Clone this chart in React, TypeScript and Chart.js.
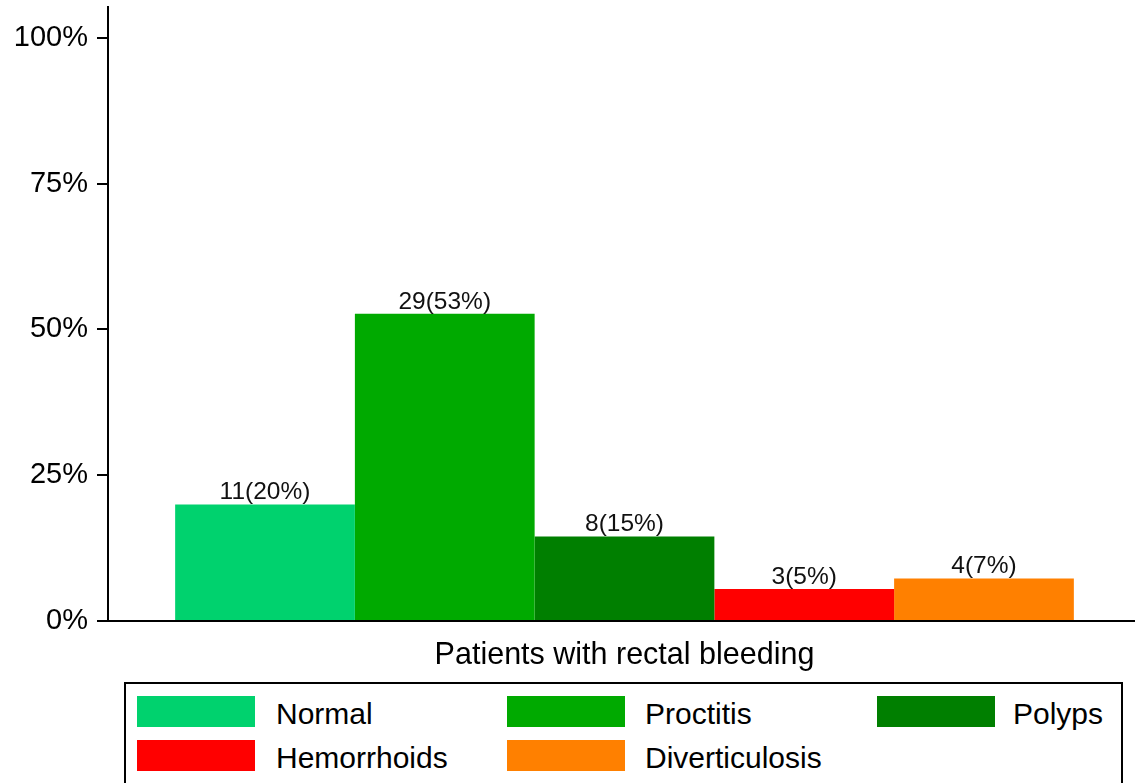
import React, { useEffect, useRef } from "react";
import { Chart, registerables } from "chart.js";

Chart.register(...registerables);

const category = ["Patients with rectal bleeding"];
const seriesNames = ["Normal", "Proctitis", "Polyps", "Hemorrhoids", "Diverticulosis"];
const seriesPercent = [20.0, 52.7, 14.5, 5.5, 7.3];
const seriesLabels = ["11(20%)", "29(53%)", "8(15%)", "3(5%)", "4(7%)"];
const seriesColors = ["#00D26E", "#00AA00", "#007F00", "#FF0000", "#FF8000"];
const yTicks = [0, 25, 50, 75, 100];

const FONT = '"Liberation Sans", Arial, sans-serif';

const barLabelPlugin = {
  id: "barLabels",
  afterDatasetsDraw(chart: any) {
    const ctx = chart.ctx;
    ctx.save();
    ctx.font = `24.5px ${FONT}`;
    ctx.fillStyle = "#111";
    ctx.textAlign = "center";
    ctx.textBaseline = "alphabetic";
    chart.data.datasets.forEach((ds: any, i: number) => {
      const meta = chart.getDatasetMeta(i);
      meta.data.forEach((bar: any) => {
        ctx.fillText(seriesLabels[i], bar.x, bar.y - 5);
      });
    });
    ctx.restore();
  },
};

export default function App() {
  const ref = useRef<HTMLCanvasElement | null>(null);

  useEffect(() => {
    document.body.style.margin = "0";
    document.body.style.overflow = "hidden";
    const chart = new Chart(ref.current as HTMLCanvasElement, {
      type: "bar",
      data: {
        labels: category,
        datasets: seriesNames.map((name, i) => ({
          label: name,
          data: [seriesPercent[i]],
          backgroundColor: seriesColors[i],
          borderWidth: 0,
        })),
      },
      options: {
        animation: false,
        responsive: false,
        maintainAspectRatio: false,
        layout: { padding: { top: 7, left: 0, right: 0, bottom: 0 } },
        plugins: {
          legend: { display: false },
          tooltip: { enabled: false },
        },
        datasets: {
          bar: { categoryPercentage: 0.87, barPercentage: 1.0 },
        },
        scales: {
          x: {
            grid: { display: false, drawTicks: false },
            border: { display: true, color: "#000", width: 2 },
            ticks: {
              color: "#000",
              padding: 16,
              font: { family: FONT, size: 30.5 },
            },
            afterFit: (s: any) => {
              s.height = 162;
            },
          },
          y: {
            min: 0,
            max: 105.3,
            grid: {
              display: true,
              drawOnChartArea: false,
              drawTicks: true,
              tickLength: 11,
              color: "#000",
              lineWidth: 2,
            },
            border: { display: true, color: "#000", width: 2 },
            ticks: {
              color: "#000",
              padding: 9,
              font: { family: FONT, size: 29, lineHeight: 0.4 },
              callback: (v: any) => `${v}%`,
            },
            afterBuildTicks: (s: any) => {
              s.ticks = yTicks.map((v) => ({ value: v }));
            },
            afterFit: (s: any) => {
              s.width = 108;
              s.paddingTop = 0;
              s.paddingBottom = 0;
            },
          },
        },
      },
      plugins: [barLabelPlugin],
    });
    return () => chart.destroy();
  }, []);

  const colLeft = [11, 381, 751];
  const labelLeft = [150, 519, 887];
  const rowTop = [12, 56];

  return (
    <div style={{ position: "fixed", left: 0, top: 0, width: 1141, height: 783, fontFamily: FONT }}>
      <canvas ref={ref} width={1141} height={783} style={{ position: "absolute", left: 0, top: 0, width: 1141, height: 783 }} />
      <div
        style={{
          position: "absolute",
          left: 124,
          top: 682,
          width: 999,
          height: 120,
          boxSizing: "border-box",
          border: "2px solid #000",
          background: "#fff",
        }}
      >
        {seriesNames.map((name, i) => {
          const col = i % 3;
          const row = Math.floor(i / 3);
          return (
            <React.Fragment key={name}>
              <div
                style={{
                  position: "absolute",
                  left: colLeft[col],
                  top: rowTop[row],
                  width: 118,
                  height: 31,
                  background: seriesColors[i],
                }}
              />
              <div
                style={{
                  position: "absolute",
                  left: labelLeft[col],
                  top: rowTop[row] + 2,
                  height: 31,
                  lineHeight: "31px",
                  fontSize: 30,
                  color: "#000",
                  whiteSpace: "nowrap",
                }}
              >
                {name}
              </div>
            </React.Fragment>
          );
        })}
      </div>
    </div>
  );
}
